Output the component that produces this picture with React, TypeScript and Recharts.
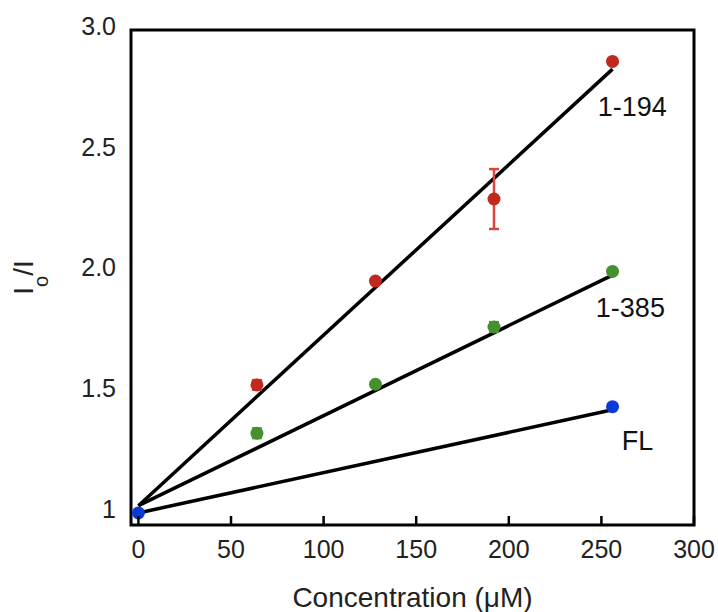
import { ComposedChart, Line, Scatter, ErrorBar, XAxis, YAxis, ReferenceArea, ReferenceDot } from 'recharts';

const xTicks = [0, 50, 100, 150, 200, 250, 300];
const yTicks = [1, 1.5, 2, 2.5, 3];

// measured points (concentration in µM)
const redConc = [64, 128, 192, 256];
const redVal = [1.53, 1.96, 2.3, 2.87];
const redErr = [0.02, 0.01, 0.124, 0.01];

const greenConc = [64, 128, 192, 256];
const greenVal = [1.33, 1.533, 1.77, 2.0];
const greenErr = [0.02, 0.005, 0.02, 0.005];

const blueConc = [0, 256];
const blueVal = [1.0, 1.44];

// linear fits
const fitConc = [0, 256];
const redFit = [1.03, 2.838];
const greenFit = [1.03, 1.985];
const blueFit = [1.0, 1.427];

const seriesNames = ['1-194', '1-385', 'FL'];
const seriesColors = ['#C1281E', '#44912E', '#0A3AD6'];
const nameAnchorX = [248, 247, 261];
const nameAnchorY = [2.644, 1.812, 1.261];

const FONT = '"Liberation Sans", Arial, sans-serif';

const toPoints = (xs: number[], ys: number[], errs?: number[]) =>
  xs.map((x, i) => ({ x, y: ys[i], err: errs ? errs[i] : 0 }));

const redData = toPoints(redConc, redVal, redErr);
const greenData = toPoints(greenConc, greenVal, greenErr);
const blueData = toPoints(blueConc, blueVal);

const redLine = toPoints(fitConc, redFit);
const greenLine = toPoints(fitConc, greenFit);
const blueLine = toPoints(fitConc, blueFit);

const XTick = (props: any) => {
  const { x, y, payload } = props;
  return (
    <g>
      <line x1={x} y1={y} x2={x} y2={y - 9} stroke="#000" strokeWidth={2.5} />
      <text x={x} y={y + 33} textAnchor="middle" fontSize={25} fontFamily={FONT} fill="#222">
        {payload.value}
      </text>
    </g>
  );
};

const YTick = (props: any) => {
  const { x, y, payload } = props;
  const v = payload.value;
  return (
    <text x={x - 15} y={y - 4} dy="0.355em" textAnchor="end" fontSize={25} fontFamily={FONT} fill="#222">
      {v === 1 ? '1' : v.toFixed(1)}
    </text>
  );
};

const XTitle = (props: any) => {
  const { x, y, width } = props.viewBox;
  return (
    <text x={x + width / 2} y={y + 82} textAnchor="middle" fontSize={28} fontFamily={FONT} fill="#222">
      Concentration (μM)
    </text>
  );
};

const YTitle = (props: any) => {
  const { y, height } = props.viewBox;
  const cx = 33;
  const cy = y + height / 2;
  return (
    <text
      x={cx}
      y={cy}
      transform={`rotate(-90, ${cx}, ${cy})`}
      textAnchor="middle"
      fontSize={28}
      fontFamily={FONT}
      fill="#222"
    >
      I
      <tspan dy={15} fontSize={20}>o</tspan>
      <tspan dy={-15}>/I</tspan>
    </text>
  );
};

const dotShape = (color: string) => (props: any) =>
  <circle cx={props.cx} cy={props.cy} r={6.5} fill={color} />;

const NameLabel = (text: string) => (props: any) => {
  const { x, y } = props.viewBox;
  return (
    <text x={x} y={y} fontSize={27} fontFamily={FONT} fill="#111">
      {text}
    </text>
  );
};

export default function App() {
  return (
    <div style={{ position: 'absolute', left: 0, top: 0, width: 718, height: 612, background: '#fff' }}>
      <ComposedChart width={718} height={612} margin={{ top: 30, right: 24, left: 0, bottom: 0 }}>
        <XAxis
          dataKey="x"
          type="number"
          domain={[-4, 300]}
          ticks={xTicks}
          allowDataOverflow
          axisLine={false}
          tickLine={false}
          tickSize={0}
          tickMargin={0}
          height={87}
          tick={<XTick />}
          label={<XTitle />}
        />
        <YAxis
          type="number"
          domain={[0.95, 3]}
          ticks={yTicks}
          allowDataOverflow
          axisLine={false}
          tickLine={false}
          tickSize={0}
          tickMargin={0}
          width={131}
          tick={<YTick />}
          label={<YTitle />}
        />
        <ReferenceArea x1={-4} x2={300} y1={0.95} y2={3} fill="none" stroke="#000" strokeWidth={3} ifOverflow="visible" />
        <Line data={redLine} dataKey="y" stroke="#000" strokeWidth={3.5} dot={false} isAnimationActive={false} />
        <Line data={greenLine} dataKey="y" stroke="#000" strokeWidth={3.5} dot={false} isAnimationActive={false} />
        <Line data={blueLine} dataKey="y" stroke="#000" strokeWidth={3.5} dot={false} isAnimationActive={false} />
        <Scatter data={redData} dataKey="y" shape={dotShape(seriesColors[0])} isAnimationActive={false}>
          <ErrorBar dataKey="err" direction="y" width={5} stroke="#D8463C" strokeWidth={2.5} />
        </Scatter>
        <Scatter data={greenData} dataKey="y" shape={dotShape(seriesColors[1])} isAnimationActive={false}>
          <ErrorBar dataKey="err" direction="y" width={5} stroke="#4E9A3A" strokeWidth={2.5} />
        </Scatter>
        <Scatter data={blueData} dataKey="y" shape={dotShape(seriesColors[2])} isAnimationActive={false} />
        {seriesNames.map((name, i) => (
          <ReferenceDot
            key={name}
            x={nameAnchorX[i]}
            y={nameAnchorY[i]}
            r={0}
            fill="none"
            stroke="none"
            label={NameLabel(name)}
          />
        ))}
      </ComposedChart>
    </div>
  );
}
